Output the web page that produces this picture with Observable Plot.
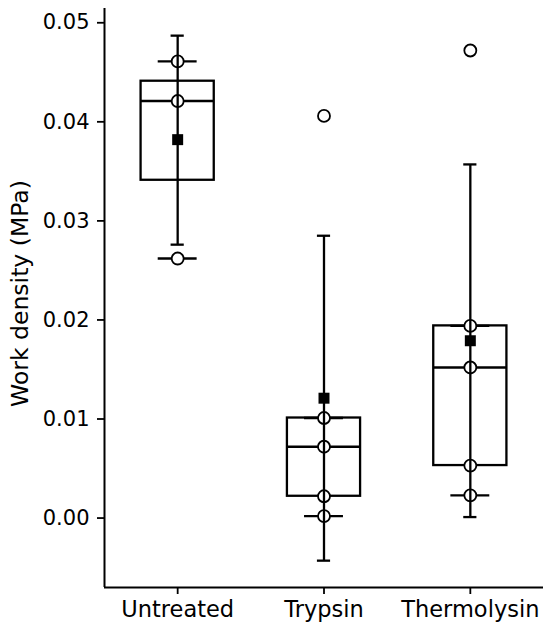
<!DOCTYPE html>
<html>
<head>
<meta charset="utf-8">
<script src="https://cdn.jsdelivr.net/npm/d3@7"></script>
<script src="https://cdn.jsdelivr.net/npm/@observablehq/plot@0.6"></script>
<style>
  html, body { margin: 0; padding: 0; background: #fff; }
  svg { display: block; }
</style>
</head>
<body>
<div id="chart"></div>
<script>
const categories = ["Untreated", "Trypsin", "Thermolysin"];
const q1 = [0.0341, 0.0022, 0.0053];
const median = [0.0421, 0.0072, 0.0152];
const q3 = [0.0441, 0.0101, 0.0194];
const whiskerLow = [0.0262, 0.0002, 0.0023];
const whiskerHigh = [0.0461, 0.0101, 0.0194];
const mean = [0.0382, 0.0121, 0.0179];
const sdLow = [0.0276, -0.0043, 0.0001];
const sdHigh = [0.0487, 0.0285, 0.0357];
const pointsUntreated = [0.0461, 0.0421, 0.0262];
const pointsTrypsin = [0.0406, 0.0101, 0.0072, 0.0022, 0.0002];
const pointsThermolysin = [0.0472, 0.0194, 0.0152, 0.0053, 0.0023];
const yTicks = [0.00, 0.01, 0.02, 0.03, 0.04, 0.05];

const idx = categories.map((c, i) => i);
const points = [pointsUntreated, pointsTrypsin, pointsThermolysin]
  .flatMap((arr, i) => arr.map(v => ({i, v})));

const yDomain = [-0.00701, 0.05144];
const boxHalf = 0.25, capHalf = 0.133, sdCapHalf = 0.045;
const font = "DejaVu Sans, sans-serif";
const sw = 2.3;

const chart = Plot.plot({
  width: 550,
  height: 632,
  marginLeft: 104,
  marginRight: 7,
  marginTop: 8,
  marginBottom: 45,
  style: {fontFamily: font, fontSize: "21px", color: "black", background: "white"},
  x: {type: "linear", domain: [-0.5, 2.5], axis: null},
  y: {domain: yDomain, axis: null},
  marks: [
    // axes
    Plot.axisY({ticks: yTicks, tickFormat: d3.format(".2f"), tickSize: 7, tickPadding: 8, fontSize: 21, label: null, strokeWidth: 1.8}),
    Plot.axisX({ticks: idx, tickFormat: i => categories[i], tickSize: 7, tickPadding: 7, fontSize: 22.5, label: null, strokeWidth: 1.8}),
    Plot.ruleX([-0.5], {stroke: "black", strokeWidth: 2}),
    Plot.ruleY([yDomain[0]], {stroke: "black", strokeWidth: 2}),
    Plot.text(["Work density (MPa)"], {frameAnchor: "left", textAnchor: "middle", rotate: -90, dx: -84, dy: -4.5, fontSize: 23.5, fill: "black"}),
    // boxes
    Plot.rect(idx, {x1: i => i - boxHalf, x2: i => i + boxHalf, y1: i => q1[i], y2: i => q3[i], fill: "none", stroke: "black", strokeWidth: sw}),
    Plot.ruleY(idx, {x1: i => i - boxHalf, x2: i => i + boxHalf, y: i => median[i], stroke: "black", strokeWidth: sw}),
    // boxplot whisker caps
    Plot.ruleY(idx, {x1: i => i - capHalf, x2: i => i + capHalf, y: i => whiskerLow[i], stroke: "black", strokeWidth: sw}),
    Plot.ruleY(idx, {x1: i => i - capHalf, x2: i => i + capHalf, y: i => whiskerHigh[i], stroke: "black", strokeWidth: sw}),
    // data points
    Plot.dot(points, {x: "i", y: "v", r: 6, fill: "white", stroke: "black", strokeWidth: 1.8}),
    // mean ± SD error bar
    Plot.ruleX(idx, {x: i => i, y1: i => sdLow[i], y2: i => sdHigh[i], stroke: "black", strokeWidth: sw}),
    Plot.ruleY(idx, {x1: i => i - sdCapHalf, x2: i => i + sdCapHalf, y: i => sdLow[i], stroke: "black", strokeWidth: sw}),
    Plot.ruleY(idx, {x1: i => i - sdCapHalf, x2: i => i + sdCapHalf, y: i => sdHigh[i], stroke: "black", strokeWidth: sw}),
    Plot.dot(idx, {x: i => i, y: i => mean[i], symbol: "square", r: 6.2, fill: "black", stroke: "none"})
  ]
});
document.getElementById("chart").appendChild(chart);
</script>
</body>
</html>
